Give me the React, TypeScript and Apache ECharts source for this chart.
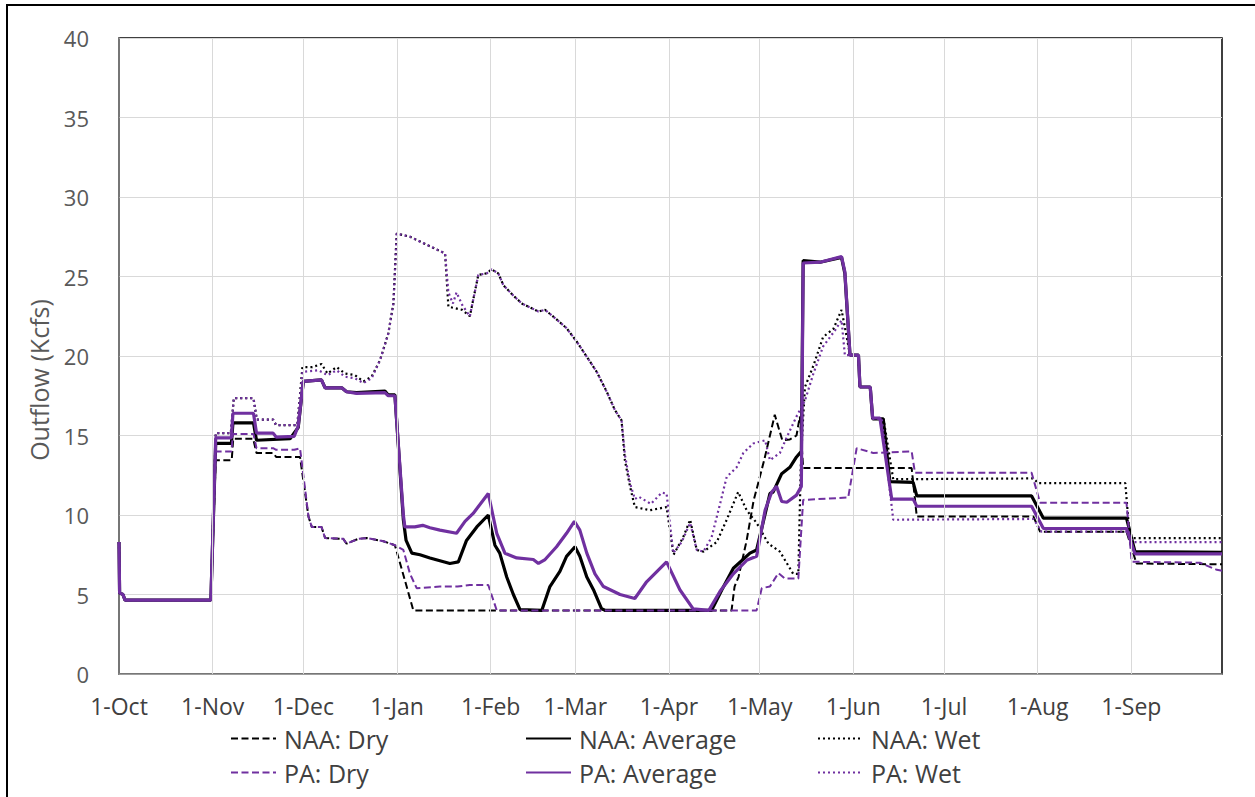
import React, { useEffect, useRef } from "react";
import * as echarts from "echarts";

// Month-start days (day 0 = 1-Oct) and their tick labels
const monthStartDays = [0, 31, 61, 92, 123, 151, 182, 212, 243, 273, 304, 335];
const monthLabels = ["1-Oct", "1-Nov", "1-Dec", "1-Jan", "1-Feb", "1-Mar", "1-Apr", "1-May", "1-Jun", "1-Jul", "1-Aug", "1-Sep"];
const gridDays = [31, 61, 92, 123, 151, 182, 212, 243, 273, 304, 335];

const seriesNames = ["NAA: Dry", "NAA: Average", "NAA: Wet", "PA: Dry", "PA: Average", "PA: Wet"];

// [day since 1-Oct, outflow kcfs]
const naaDry: number[][] = [
  [0, 8.3], [0.2, 5.1], [1.3, 5.0], [2, 4.65], [30.4, 4.65], [32, 13.45], [37.3, 13.45], [37.8, 14.8], [44.4, 14.8],
  [45.5, 13.9], [51, 13.9], [52, 13.65], [59.9, 13.65], [62.7, 9.9], [63.8, 9.25], [67, 9.25], [68.2, 8.55],
  [74.2, 8.5], [75.3, 8.2], [79.2, 8.5], [82, 8.55], [87.5, 8.35], [91.3, 8.1], [94.6, 5.9], [97.4, 4.0],
  [202.7, 4.0], [203.7, 5.5], [205, 6.1], [207.7, 8.4], [210, 10.9], [213.5, 13.45], [217, 16.3], [219.5, 14.7],
  [222, 14.75], [224.2, 15.0], [225.3, 16.2], [226.4, 12.95], [262.3, 12.95], [264, 9.9], [302.6, 9.9],
  [304.8, 8.95], [333.4, 8.95], [336.7, 6.95], [365, 6.9],
];

const naaAverage: number[][] = [
  [0, 8.3], [0.2, 5.1], [1.3, 5.0], [2, 4.65], [30.4, 4.65], [32, 14.5], [37.2, 14.5], [37.7, 15.8], [44.5, 15.8],
  [45.5, 14.7], [56.6, 14.8], [59.3, 15.5], [61, 18.4], [67, 18.5], [68.2, 18.0], [73.7, 18.0], [75.3, 17.75],
  [78.6, 17.7], [88, 17.8], [89.1, 17.55], [91.3, 17.55], [94.1, 9.7], [95, 8.4], [96.9, 7.6], [99.6, 7.5],
  [102.9, 7.3], [109.5, 6.95], [112.3, 7.05], [115, 8.4], [118.4, 9.25], [122.2, 10.0], [124.4, 8.1], [126, 7.6],
  [128.3, 6.1], [130.5, 5.0], [132.7, 4.05], [139.9, 4.0], [142.6, 5.5], [145.9, 6.45], [148.1, 7.4], [150.9, 8.0],
  [152.5, 7.4], [154.8, 6.1], [157, 5.3], [159.7, 4.1], [161, 4.0], [196.1, 4.0], [199.5, 5.3], [203.3, 6.65],
  [208.8, 7.6], [211, 7.8], [215.4, 11.35], [216.5, 11.45], [219.3, 12.6], [222, 13.0], [224.2, 13.65],
  [225.8, 14.0], [226.4, 26.0], [232, 25.9], [239.1, 26.2], [240.2, 25.2], [241.9, 20.05], [244.7, 20.05],
  [245.2, 18.05], [248.6, 18.05], [249.4, 16.05], [252.9, 16.05], [255.1, 12.1], [262.8, 12.05], [264, 11.2],
  [302, 11.2], [305.9, 9.8], [333.4, 9.8], [336.2, 7.7], [365, 7.65],
];

const naaWet: number[][] = [
  [0, 8.3], [0.2, 5.1], [1.3, 5.0], [2, 4.65], [30.4, 4.65], [32, 15.15], [37, 15.15], [38, 17.35], [44.5, 17.35],
  [45.6, 16.0], [51, 16.0], [52, 15.65], [59, 15.65], [60.7, 19.3], [64, 19.3], [67, 19.5], [69, 18.9], [72, 19.3],
  [74.8, 18.9], [78, 18.8], [80.9, 18.4], [83.6, 18.7], [86.4, 19.75], [89.1, 21.4], [90.8, 23.3], [91.9, 27.7],
  [96.3, 27.5], [101.8, 27.0], [107.9, 26.45], [109, 23.1], [113.6, 22.9], [116.1, 22.5], [118.9, 25.1],
  [121.7, 25.2], [123.3, 25.45], [125.5, 25.2], [127.2, 24.45], [130.5, 23.8], [133.3, 23.3], [138.8, 22.8],
  [141, 22.9], [144.8, 22.3], [148.1, 21.75], [151.5, 20.9], [154.8, 19.95], [158.1, 19.0], [161.4, 17.75],
  [164.1, 16.6], [166.3, 15.95], [167.4, 13.45], [169.1, 11.8], [170.7, 10.5], [175.7, 10.3], [181.2, 10.5],
  [183.5, 7.5], [186.7, 8.6], [189, 9.7], [191.2, 7.8], [193.4, 7.7], [197.8, 8.3], [201.1, 9.7], [204.9, 11.45],
  [207.7, 10.3], [211, 9.5], [214.9, 8.2], [218.7, 7.7], [223.1, 6.3], [224.8, 6.3], [225.6, 13.0], [226.2, 15.5],
  [227, 18.05], [229.8, 19.4], [233, 21.2], [236.4, 21.7], [239.1, 22.9], [240.8, 21.2], [241.9, 20.05],
  [244.7, 20.05], [245.2, 18.05], [248.6, 18.05], [249.4, 16.05], [253, 16.05], [256.2, 12.25], [302.6, 12.3],
  [304.2, 12.0], [333, 12.0], [334.5, 8.55], [365, 8.55],
];

const paDry: number[][] = [
  [0, 8.3], [0.2, 5.1], [1.3, 5.0], [2, 4.65], [30.4, 4.65], [32, 14.0], [37.2, 14.0], [37.7, 15.1], [44.5, 15.1],
  [45.5, 14.2], [51, 14.2], [52, 14.1], [58, 14.1], [59.9, 14.2], [62.7, 9.9], [63.8, 9.25], [67, 9.25],
  [68.2, 8.55], [74.2, 8.5], [75.3, 8.2], [79.2, 8.5], [82, 8.55], [87.5, 8.35], [91.3, 8.1], [94.1, 7.8],
  [96.3, 6.3], [98.5, 5.4], [106.2, 5.5], [112, 5.5], [116.1, 5.6], [122.2, 5.6], [125, 4.0], [211, 4.0],
  [212.7, 5.4], [215.4, 5.5], [218.2, 6.35], [220.4, 6.0], [224.8, 6.0], [226.4, 10.95], [241.3, 11.1],
  [244.1, 14.2], [249.6, 13.9], [262.3, 14.0], [263.4, 12.65], [302, 12.65], [304.8, 10.77], [333.4, 10.77],
  [335.1, 7.06], [357.7, 7.0], [363.3, 6.55], [365, 6.5],
];

const paAverage: number[][] = [
  [0, 8.3], [0.2, 5.1], [1.3, 5.0], [2, 4.65], [30.4, 4.65], [32, 14.85], [37.2, 14.85], [37.7, 16.4], [44.5, 16.4],
  [45.5, 15.15], [51, 15.15], [52, 14.9], [58, 14.95], [59.3, 15.6], [61, 18.4], [67, 18.5], [68.2, 18.0],
  [73.7, 18.0], [75.3, 17.75], [78.6, 17.65], [88, 17.7], [89.1, 17.5], [91.3, 17.5], [94.1, 10.0], [94.6, 9.25],
  [97.9, 9.25], [100.5, 9.35], [102.9, 9.2], [106.2, 9.05], [111.7, 8.85], [114.5, 9.6], [117.2, 10.1],
  [122.2, 11.35], [125, 8.85], [127.7, 7.6], [131.6, 7.3], [137.1, 7.2], [138.8, 6.95], [141, 7.2], [144.8, 8.0],
  [148.1, 8.85], [150.7, 9.6], [152.5, 9.05], [154.8, 7.6], [157.5, 6.3], [160.3, 5.5], [165.8, 5.0],
  [170.7, 4.75], [174.6, 5.8], [181.2, 7.05], [185.6, 5.3], [190, 4.1], [195.2, 4.0], [198.9, 5.2], [203.3, 6.3],
  [207.7, 7.15], [211, 7.4], [213.8, 10.3], [216, 11.45], [217.6, 11.8], [219.3, 10.85], [221, 10.8],
  [224.2, 11.25], [225.8, 11.8], [226.4, 25.85], [232, 25.9], [239.1, 26.25], [240.2, 25.3], [241.9, 20.05],
  [244.7, 20.05], [245.2, 18.05], [248.6, 18.05], [249.4, 16.1], [251.8, 16.1], [255.7, 11.0], [262.8, 11.0],
  [264, 10.55], [302, 10.55], [305.9, 9.15], [333.4, 9.15], [336.2, 7.55], [365, 7.55],
];

const paWet: number[][] = [
  [0, 8.3], [0.2, 5.1], [1.3, 5.0], [2, 4.65], [30.4, 4.65], [32, 15.15], [37, 15.15], [38, 17.35], [44.5, 17.35],
  [45.6, 16.0], [51, 16.0], [52, 15.65], [59, 15.65], [60.7, 19.0], [66, 19.1], [69, 18.8], [72, 19.1],
  [74.8, 18.7], [78, 18.6], [80.9, 18.3], [83.6, 18.6], [86.4, 19.75], [89.1, 21.4], [90.8, 23.3], [91.9, 27.7],
  [96.3, 27.5], [101.8, 27.0], [107.9, 26.45], [109, 24.0], [110.5, 23.3], [111.7, 24.0], [113.6, 23.2],
  [116.1, 22.5], [118.9, 25.1], [121.7, 25.2], [123.3, 25.45], [125.5, 25.2], [127.2, 24.45], [130.5, 23.8],
  [133.3, 23.3], [138.8, 22.8], [141, 22.9], [144.8, 22.3], [148.1, 21.75], [151.5, 20.9], [154.8, 19.95],
  [158.1, 19.0], [161.4, 17.75], [164.1, 16.6], [166.3, 15.95], [167.4, 13.8], [169.1, 12.0], [170.7, 11.0],
  [172, 11.15], [176, 10.7], [179.6, 11.4], [181.2, 11.35], [183.4, 7.6], [186.2, 8.3], [189, 9.5], [191.2, 7.8],
  [193.4, 7.7], [196.1, 8.6], [198.9, 10.7], [201.1, 12.4], [204.4, 13.0], [206.6, 13.9], [209.9, 14.5],
  [213.8, 14.7], [215.4, 13.45], [218.7, 13.9], [221, 14.9], [224.2, 16.2], [227, 17.2], [229.8, 18.9],
  [233, 20.6], [236.9, 21.6], [239.1, 22.25], [240.2, 20.05], [244.7, 20.05], [245.2, 18.05], [248.6, 18.05],
  [249.4, 16.05], [252.4, 16.05], [256.2, 9.7], [302.6, 9.75], [305.3, 8.95], [333.4, 8.95], [335.6, 8.3],
  [365, 8.3],
];

const BLACK = "#000000";
const PURPLE = "#7030A0";
const FONT = "Open Sans";

export default function App() {
  const ref = useRef<HTMLDivElement>(null);

  useEffect(() => {
    document.body.style.margin = "0";
    if (!ref.current) return;
    const chart = echarts.init(ref.current, undefined, { renderer: "svg" });

    const dashed = [7, 3.5];
    const dotted = [2, 3];
    const mk = (name: string, data: number[][], color: string, width: number, type: any) => ({
      name,
      type: "line",
      data,
      symbol: "none",
      showSymbol: false,
      color,
      lineStyle: { color, width, type, cap: "butt" },
      itemStyle: { color },
      z: 3,
    });

    const legendPos = [
      { left: 230, top: 726 },
      { left: 525, top: 726 },
      { left: 817, top: 726 },
      { left: 230, top: 760 },
      { left: 525, top: 760 },
      { left: 817, top: 760 },
    ];

    const option: any = {
      animation: false,
      backgroundColor: "#ffffff",
      textStyle: { fontFamily: FONT },
      grid: {
        left: 119,
        top: 38,
        right: 33,
        bottom: 123,
        show: true,
        borderColor: "#000000",
        borderWidth: 1.5,
        backgroundColor: "transparent",
      },
      xAxis: {
        type: "value",
        min: 0,
        max: 365,
        axisLine: { show: true, lineStyle: { color: "#8a8a8a", width: 1.5 } },
        axisTick: { show: false },
        splitLine: { show: false },
        axisLabel: {
          customValues: monthStartDays,
          formatter: (v: number) => {
            const i = monthStartDays.indexOf(Math.round(v));
            return i >= 0 ? monthLabels[i] : "";
          },
          fontSize: 23,
          color: "#404040",
          margin: 20,
          fontFamily: FONT,
        },
      },
      yAxis: {
        type: "value",
        min: 0,
        max: 40,
        interval: 5,
        axisLine: { show: true, lineStyle: { color: "#8a8a8a", width: 1.5 } },
        axisTick: { show: false },
        splitLine: { show: true, lineStyle: { color: "#d9d9d9", width: 1 } },
        axisLabel: { fontSize: 22, color: "#595959", margin: 30, fontFamily: FONT },
      },
      legend: seriesNames.map((n, i) => ({
        data: [n],
        left: legendPos[i].left,
        top: legendPos[i].top,
        itemWidth: 45,
        itemHeight: 14,
        padding: 0,
        selectedMode: false,
        itemStyle: { color: "transparent", borderWidth: 0, opacity: 0 },
        textStyle: { fontSize: 25, color: "#404040", fontFamily: FONT, padding: [0, 0, 0, 3] },
      })),
      graphic: [
        {
          type: "text",
          x: 39,
          y: 380,
          rotation: Math.PI / 2,
          style: {
            text: "Outflow (Kcfs)",
            fontSize: 25,
            fill: "#595959",
            fontFamily: FONT,
            align: "center",
            verticalAlign: "middle",
          },
        },
        { type: "line", shape: { x1: 7, y1: 4, x2: 7, y2: 797 }, style: { stroke: "#000", lineWidth: 2 } },
        { type: "line", shape: { x1: 6, y1: 5, x2: 1255, y2: 5 }, style: { stroke: "#000", lineWidth: 2 } },
      ],
      series: [
        {
          name: "grid-lines",
          type: "line",
          data: [],
          z: 1,
          silent: true,
          markLine: {
            silent: true,
            symbol: "none",
            label: { show: false },
            lineStyle: { color: "#d9d9d9", width: 1, type: "solid" },
            data: gridDays.map((d) => ({ xAxis: d })),
          },
        },
        mk(seriesNames[0], naaDry, BLACK, 2, dashed),
        mk(seriesNames[1], naaAverage, BLACK, 3.2, "solid"),
        mk(seriesNames[2], naaWet, BLACK, 2.2, dotted),
        mk(seriesNames[3], paDry, PURPLE, 2, dashed),
        mk(seriesNames[4], paAverage, PURPLE, 3.2, "solid"),
        mk(seriesNames[5], paWet, PURPLE, 2.2, dotted),
      ],
    };

    chart.setOption(option);
    return () => chart.dispose();
  }, []);

  return <div ref={ref} style={{ width: 1255, height: 797 }} />;
}
